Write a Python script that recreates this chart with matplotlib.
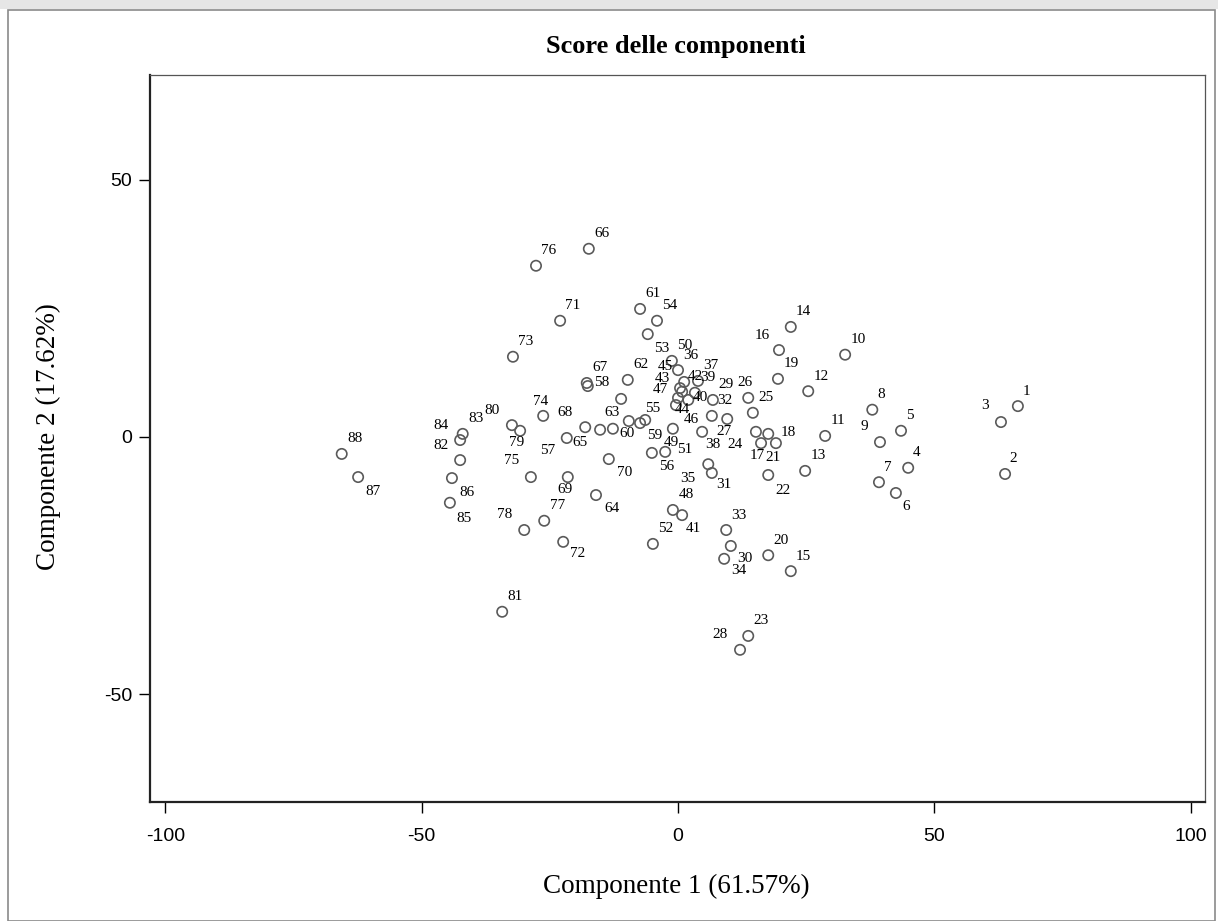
import matplotlib
matplotlib.use('Agg')
import matplotlib.pyplot as plt
from matplotlib.patches import Rectangle

# scores of the 88 observations on the first two components
ids = list(range(1, 89))
comp1 = [66.3, 63.8, 63.0, 44.9, 43.5, 42.5, 39.2, 37.9, 39.4, 32.6,
         28.7, 25.4, 24.8, 22.0, 22.0, 19.7, 16.2, 17.6, 19.5, 17.6,
         19.1, 17.6, 13.7, 15.2, 14.6, 13.7, 9.6, 12.1, 6.8, 10.3,
         6.6, 6.6, 9.4, 9.0, 5.9, 0.0, 3.9, 4.7, 3.3, 2.0,
         0.8, 0.8, 0.4, 0.0, 1.2, -0.4, -11.1, -1.0, -1.0, -1.2,
         -2.5, -4.9, -5.9, -4.1, -7.4, -5.1, -21.7, -17.6, -6.4, -9.6,
         -7.4, -9.8, -12.7, -16.0, -15.2, -17.4, -17.8, -18.1, -21.5, -13.5,
         -23.0, -22.4, -32.2, -26.3, -28.7, -27.7, -26.1, -30.0, -30.8, -32.4,
         -34.3, -42.5, -42.0, -42.5, -44.5, -44.1, -62.4, -65.6]
comp2 = [6.0, -7.2, 2.9, -6.0, 1.2, -10.9, -8.8, 5.3, -1.0, 16.0,
         0.2, 8.9, -6.6, 21.4, -26.1, 16.9, -1.2, 0.6, 11.3, -23.0,
         -1.2, -7.4, -38.7, 1.0, 4.7, 7.6, 3.5, -41.4, 7.2, -21.2,
         -7.0, 4.1, -18.1, -23.7, -5.3, 13.0, 10.9, 1.0, 8.6, 7.2,
         -15.2, 8.8, 9.5, 7.6, 10.7, 6.2, 7.4, -14.2, 1.6, 14.8,
         -2.9, -20.8, 20.0, 22.6, 2.7, -3.1, -0.2, 9.9, 3.3, 3.1,
         24.9, 11.1, 1.6, -11.3, 1.4, 36.6, 10.5, 1.9, -7.8, -4.3,
         22.6, -20.4, 15.6, 4.1, -7.8, 33.3, -16.3, -18.1, 1.2, 2.3,
         -34.0, -4.5, 0.6, -0.6, -12.8, -8.0, -7.8, -3.3]

xticks = [-100, -50, 0, 50, 100]
yticks = [-50, 0, 50]

# label placement (pixel offset of label centre from the point), default upper right
label_pos = {3: (-16, 17), 9: (-16, 16), 6: (10, -14), 16: (-17, 15),
             17: (-4, -12), 18: (20, 1), 21: (-3, -14), 22: (15, -15),
             24: (-21, -13), 26: (-3, 15), 27: (-3, -13), 28: (-20, 15),
             30: (14, -13), 31: (12, -12), 34: (15, -12), 35: (-20, -14),
             38: (11, -13), 40: (12, 2), 41: (11, -13), 43: (-18, 10),
             44: (4, -12), 45: (-19, 15), 46: (15, -14), 47: (39, 9),
             49: (-2, -14), 51: (19, 2), 53: (14, -14), 56: (15, -14),
             57: (-19, -13), 58: (14, 4), 59: (9, -16), 60: (-2, -12),
             63: (-1, 16), 64: (16, -13), 65: (-20, -13), 68: (-20, 15),
             69: (-3, -12), 70: (16, -13), 72: (14, -12), 74: (-3, 14),
             75: (-19, 17), 78: (-20, 16), 79: (-3, -12), 80: (-20, 15),
             82: (-19, 15), 84: (-19, 15), 85: (14, -16), 86: (15, -14),
             87: (15, -14)}

W, H = 1218, 921
fig = plt.figure(figsize=(W / 100, H / 100), dpi=100)

# window frame
fig.patches.append(Rectangle((0, 1 - 9 / H), 1, 9 / H, transform=fig.transFigure,
                             facecolor='#e6e6e6', edgecolor='none'))
fig.patches.append(Rectangle((8 / W, 0), 1 - 11 / W, 1 - 10 / H, transform=fig.transFigure,
                             facecolor='none', edgecolor='#8a8a8a', linewidth=1.2))

ax = fig.add_axes([150 / W, 119 / H, 1055 / W, 727 / H])
ax.scatter(comp1, comp2, s=55, facecolors='none', edgecolors='#5a5a5a', linewidths=1.2, zorder=3)

for i, x, y in zip(ids, comp1, comp2):
    n = len(str(i))
    dx, dy = label_pos.get(i, (4 + 4.5 * n, 15))
    ax.annotate(str(i), (x, y), xytext=(dx, dy), textcoords='offset pixels',
                ha='center', va='center', fontsize=11, family='Liberation Serif', color='black')

ax.set_xlim(-103, 102.8)
ax.set_ylim(-71, 70.4)
ax.set_xticks(xticks)
ax.set_yticks(yticks)
ax.set_xticklabels([str(v) for v in xticks], family='Liberation Sans', fontsize=14)
ax.set_yticklabels([str(v) for v in yticks], family='Liberation Sans', fontsize=14)
ax.tick_params(axis='x', direction='out', length=8, width=1, pad=11)
ax.tick_params(axis='y', direction='out', length=8, width=1, pad=5)

for s in ['left', 'bottom']:
    ax.spines[s].set_linewidth(1.6)
    ax.spines[s].set_color('#222222')
for s in ['top', 'right']:
    ax.spines[s].set_linewidth(0.9)
    ax.spines[s].set_color('#555555')

fig.text(676 / W, 1 - 47 / H, 'Score delle componenti', ha='center', va='center',
         fontsize=19, fontweight='bold', family='Liberation Serif')
fig.text(676 / W, 1 - 886 / H, 'Componente 1 (61.57%)', ha='center', va='center',
         fontsize=19.5, family='Liberation Serif')
fig.text(48 / W, 1 - 437 / H, 'Componente 2 (17.62%)', ha='center', va='center',
         rotation=90, fontsize=19.5, family='Liberation Serif')

fig.savefig('out.png', dpi=100)
